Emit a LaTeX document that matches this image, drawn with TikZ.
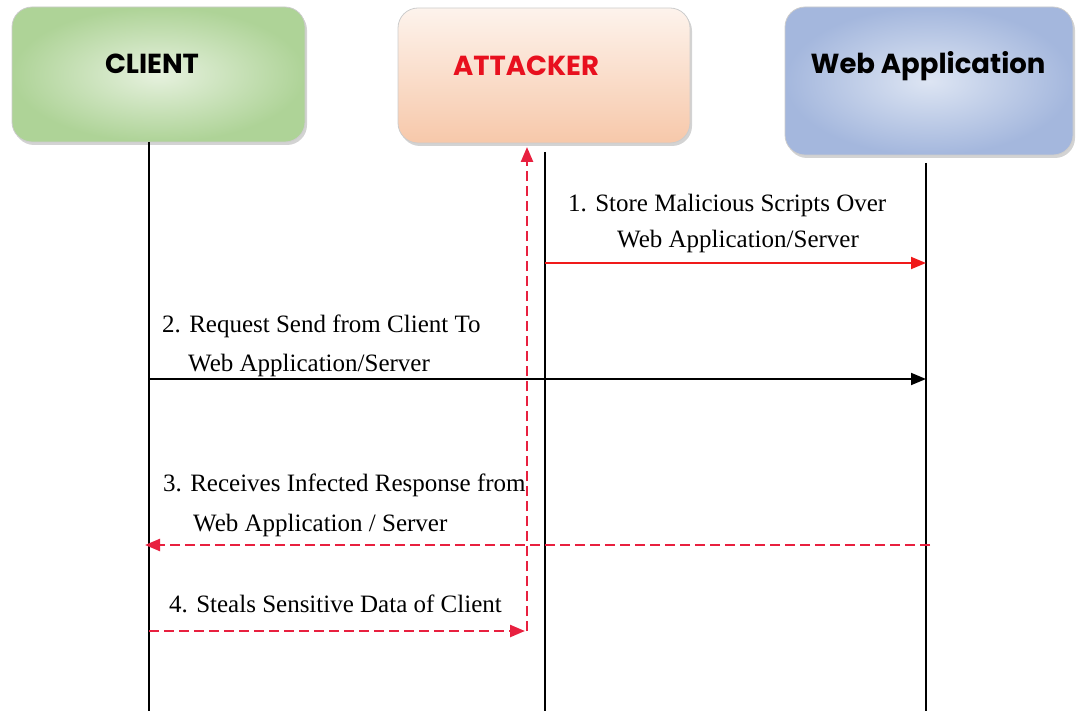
\documentclass[tikz,border=0pt]{standalone}
\usepackage{fontspec}
\setmainfont{Liberation Serif}
\newfontfamily\headfont{Poppins}
\usetikzlibrary{arrows.meta,shadows}

\definecolor{clientedge}{HTML}{AED397}
\definecolor{clientmid}{HTML}{E6F1DE}
\definecolor{attop}{HTML}{FDF3EC}
\definecolor{atbottom}{HTML}{F7C8AA}
\definecolor{webedge}{HTML}{A4B7DD}
\definecolor{webmid}{HTML}{DDE5F3}
\definecolor{msgred}{HTML}{F01A1A}
\definecolor{dashred}{HTML}{E8203F}
\definecolor{atred}{HTML}{E8101E}

\tikzset{
  actorbox/.style={rounded corners=20pt, draw=gray!40, line width=0.8pt,
    drop shadow={opacity=0.35, shadow xshift=2pt, shadow yshift=-3pt}},
  head/.style={font=\headfont\bfseries\fontsize{27.5}{30}\selectfont, inner sep=0pt},
  lifeline/.style={line width=1.8pt, black},
  msg/.style={font=\fontsize{25}{28}\selectfont, inner sep=0pt, anchor=base west},
  tip/.style={-{Triangle[length=15pt,width=12pt]}},
  solidmsg/.style={tip, line width=1.8pt},
  dashmsg/.style={tip, line width=2.4pt, dashred, dash pattern=on 10pt off 5pt},
}

\begin{document}
\begin{tikzpicture}[x=1pt,y=-1pt]
\useasboundingbox (0,0) rectangle (1076,711);

% participant boxes
\node[actorbox, minimum width=293pt, minimum height=135pt,
      inner color=clientmid, outer color=clientedge] (client) at (158.5,74.5) {};
\node[actorbox, minimum width=292pt, minimum height=135pt,
      top color=attop, bottom color=atbottom] (attacker) at (544,75.5) {};
\node[actorbox, minimum width=288pt, minimum height=148pt,
      inner color=webmid, outer color=webedge] (webapp) at (929,81) {};

\node[head, anchor=base] (clientlbl) at (152,74) {CLIENT};
\node[head, anchor=base, text=atred] (attackerlbl) at (526,76) {ATTACKER};
\node[head, anchor=base] (webapplbl) at (928,74) {Web Application};

% lifelines
\coordinate (cTop) at (149,142);
\coordinate (cBot) at (149,711);
\coordinate (aTop) at (545,152);
\coordinate (aBot) at (545,711);
\coordinate (wTop) at (926,163);
\coordinate (wBot) at (926,711);
\draw[lifeline] (cTop) -- (cBot);
\draw[lifeline] (aTop) -- (aBot);
\draw[lifeline] (wTop) -- (wBot);

% message end points
\coordinate (m1s) at (545,263);
\coordinate (m1e) at (926,263);
\coordinate (m2s) at (149,379);
\coordinate (m2e) at (926,379);
\coordinate (m3s) at (930,545);
\coordinate (m3e) at (145,545);
\coordinate (m4s) at (149,631);
\coordinate (m4e) at (525,631);
\coordinate (upS) at (527,631);
\coordinate (upE) at (527,147);

% messages
\draw[solidmsg, msgred] (m1s) -- (m1e);
\draw[solidmsg, black] (m2s) -- (m2e);
\draw[dashmsg] (m3s) -- (m3e);
\draw[dashmsg] (m4s) -- (m4e);
\draw[dashmsg] (upS) -- (upE);

% message labels
\node[msg] (l1a) at (568,212) {1. Store Malicious Scripts Over};
\node[msg] (l1b) at (617,248) {Web Application/Server};
\node[msg] (l2a) at (162,332) {2. Request Send from Client To};
\node[msg] (l2b) at (188,371) {Web Application/Server};
\node[msg] (l3a) at (163,491) {3. Receives Infected Response from};
\node[msg] (l3b) at (193,531) {Web Application / Server};
\node[msg] (l4a) at (169,612) {4. Steals Sensitive Data of Client};
\end{tikzpicture}
\end{document}
